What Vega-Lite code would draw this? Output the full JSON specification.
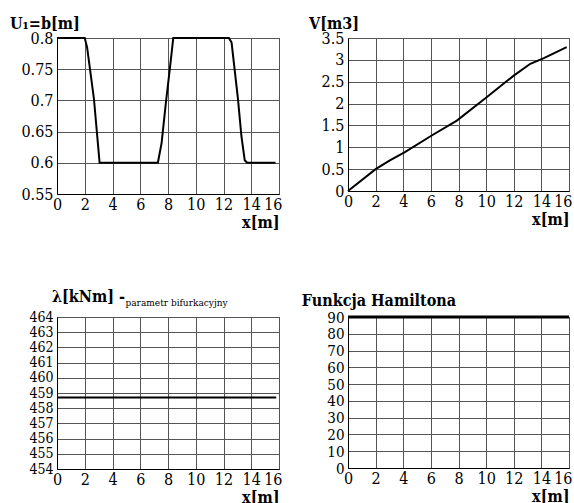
{
  "$schema": "https://vega.github.io/schema/vega-lite/v6.json",
  "background": "white",
  "padding": {"left": 9, "top": 15, "right": 0, "bottom": 0},
  "config": {
    "font": "DejaVu Serif Condensed",
    "view": {"stroke": "black", "strokeWidth": 1},
    "axis": {
      "labelFont": "DejaVu Serif Condensed", "labelFontSize": 16, "labelColor": "black",
      "ticks": false, "domainColor": "black", "gridColor": "#555", "gridWidth": 1,
      "labelOverlap": false, "labelBound": false, "labelFlush": false,
      "titleFont": "DejaVu Serif Condensed", "titleColor": "black"
    },
    "axisX": {
      "labelPadding": 2, "titleFontSize": 16, "titleFontWeight": "bold", "titleAnchor": "end", "titlePadding": 2,
      "labelAlign": {"condition": {"test": "datum.value === 16", "value": "right"}, "value": "center"},
      "labelOffset": {"condition": {"test": "datum.value === 16", "value": 3}, "value": 0}
    },
    "axisY": {"labelPadding": 4},
    "title": {"font": "DejaVu Serif Condensed", "fontSize": 16, "fontWeight": "bold", "anchor": "start", "frame": "bounds", "color": "black", "offset": -2},
    "line": {"color": "black", "strokeWidth": 2}
  },
  "datasets": {
    "u": [
      {"x": 0, "y": 0.8}, {"x": 2.0, "y": 0.8}, {"x": 2.17, "y": 0.785}, {"x": 2.66, "y": 0.703},
      {"x": 3.07, "y": 0.6}, {"x": 7.27, "y": 0.6}, {"x": 7.54, "y": 0.632}, {"x": 7.85, "y": 0.697},
      {"x": 8.14, "y": 0.752}, {"x": 8.38, "y": 0.8}, {"x": 12.39, "y": 0.8}, {"x": 12.58, "y": 0.793},
      {"x": 13.04, "y": 0.703}, {"x": 13.29, "y": 0.643}, {"x": 13.53, "y": 0.604}, {"x": 13.7, "y": 0.6},
      {"x": 15.75, "y": 0.6}
    ],
    "v": [
      {"x": 0, "y": 0}, {"x": 2, "y": 0.5}, {"x": 3.03, "y": 0.7}, {"x": 4.12, "y": 0.89},
      {"x": 6.06, "y": 1.27}, {"x": 7.88, "y": 1.61}, {"x": 10.06, "y": 2.15}, {"x": 12.0, "y": 2.64},
      {"x": 13.2, "y": 2.91}, {"x": 14.18, "y": 3.04}, {"x": 15.83, "y": 3.29}
    ],
    "lam": [{"x": 0, "y": 458.7}, {"x": 15.8, "y": 458.7}],
    "ham": [{"x": 0, "y": 90}, {"x": 16, "y": 90}]
  },
  "spacing": {"row": 123, "column": 69},
  "bounds": "flush",
  "columns": 2,
  "concat": [
    {
      "width": 222, "height": 156,
      "title": {"text": "U₁=b[m]", "dx": -11},
      "data": {"name": "u"},
      "mark": {"type": "line"},
      "encoding": {
        "x": {"field": "x", "type": "quantitative", "scale": {"domain": [0, 16], "nice": false},
              "axis": {"values": [0, 2, 4, 6, 8, 10, 12, 14, 16], "title": "x[m]"}},
        "y": {"field": "y", "type": "quantitative", "scale": {"domain": [0.55, 0.8], "nice": false, "zero": false},
              "axis": {"values": [0.55, 0.6, 0.65, 0.7, 0.75, 0.8], "format": "~g", "title": null}}
      }
    },
    {
      "width": 221, "height": 153,
      "title": {"text": "V[m3]", "dx": -12},
      "data": {"name": "v"},
      "mark": {"type": "line"},
      "encoding": {
        "x": {"field": "x", "type": "quantitative", "scale": {"domain": [0, 16], "nice": false},
              "axis": {"values": [0, 2, 4, 6, 8, 10, 12, 14, 16], "title": "x[m]"}},
        "y": {"field": "y", "type": "quantitative", "scale": {"domain": [0, 3.5], "nice": false},
              "axis": {"values": [0, 0.5, 1, 1.5, 2, 2.5, 3, 3.5], "format": "~g", "title": null}}
      }
    },
    {
      "width": 222, "height": 152,
      "title": {"text": "λ[kNm] -", "dx": 23, "offset": -8},
      "data": {"name": "lam"},
      "mark": {"type": "line"},
      "encoding": {
        "x": {"field": "x", "type": "quantitative", "scale": {"domain": [0, 16], "nice": false},
              "axis": {"values": [0, 2, 4, 6, 8, 10, 12, 14, 16], "title": "x[m]"}},
        "y": {"field": "y", "type": "quantitative", "scale": {"domain": [454, 464], "nice": false, "zero": false},
              "axis": {"values": [454, 455, 456, 457, 458, 459, 460, 461, 462, 463, 464], "format": "d", "labelFontSize": 14,
                       "title": "parametr bifurkacyjny", "titleAngle": 0, "titleAlign": "left", "titleBaseline": "alphabetic",
                       "titleX": 68, "titleY": -12, "titleFontSize": 10, "titleFontWeight": "normal"}}
      }
    },
    {
      "width": 221, "height": 151,
      "title": {"text": "Funkcja Hamiltona", "dx": -25, "offset": 1},
      "data": {"name": "ham"},
      "mark": {"type": "line", "strokeWidth": 3},
      "encoding": {
        "x": {"field": "x", "type": "quantitative", "scale": {"domain": [0, 16], "nice": false},
              "axis": {"values": [0, 2, 4, 6, 8, 10, 12, 14, 16], "title": "x[m]"}},
        "y": {"field": "y", "type": "quantitative", "scale": {"domain": [0, 90], "nice": false},
              "axis": {"values": [0, 10, 20, 30, 40, 50, 60, 70, 80, 90], "format": "d", "labelFontSize": 15, "title": null}}
      }
    }
  ]
}
